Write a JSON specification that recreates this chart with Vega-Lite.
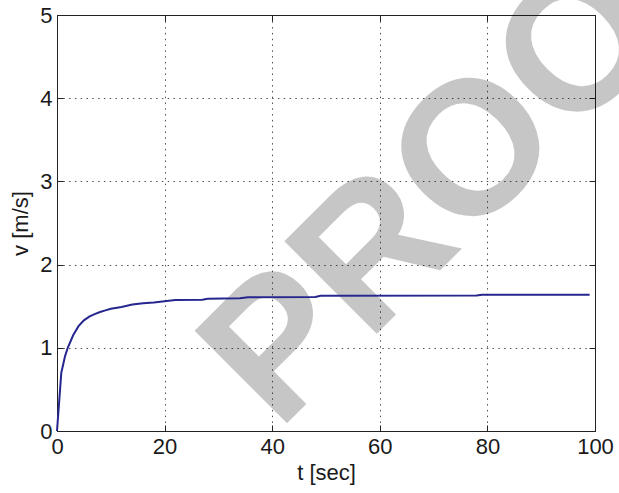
{
  "$schema": "https://vega.github.io/schema/vega-lite/v6.json",
  "width": 538,
  "height": 416,
  "autosize": {"type": "none"},
  "padding": {"left": 57, "top": 15, "right": 24, "bottom": 62},
  "background": "white",
  "config": {
    "view": {"stroke": "black", "strokeWidth": 1},
    "font": "Liberation Sans",
    "axis": {
      "labelFont": "Liberation Sans",
      "titleFont": "Liberation Sans",
      "labelFontSize": 22,
      "titleFontSize": 22,
      "titleFontWeight": "normal",
      "labelColor": "#1a1a1a",
      "titleColor": "#1a1a1a",
      "domainColor": "#222222",
      "domainWidth": 1,
      "tickColor": "#222222",
      "tickSize": -6,
      "tickWidth": 1,
      "gridColor": "#333333",
      "gridDash": [1.5, 4.3],
      "gridWidth": 1,
      "gridOpacity": 0.85
    }
  },
  "datasets": {
    "speed": [
      {"t": 0, "v": 0},
      {"t": 0.8, "v": 0.7},
      {"t": 1.5, "v": 0.9},
      {"t": 2, "v": 1.0},
      {"t": 3, "v": 1.15},
      {"t": 4, "v": 1.26},
      {"t": 5, "v": 1.33},
      {"t": 6, "v": 1.375},
      {"t": 7, "v": 1.405},
      {"t": 8, "v": 1.43},
      {"t": 9, "v": 1.45},
      {"t": 10, "v": 1.47},
      {"t": 12, "v": 1.49},
      {"t": 14, "v": 1.52},
      {"t": 16, "v": 1.535},
      {"t": 18, "v": 1.545},
      {"t": 20, "v": 1.56},
      {"t": 22, "v": 1.575},
      {"t": 27, "v": 1.578},
      {"t": 28, "v": 1.59},
      {"t": 34, "v": 1.595},
      {"t": 35.5, "v": 1.607},
      {"t": 48, "v": 1.61},
      {"t": 49, "v": 1.626},
      {"t": 78, "v": 1.628},
      {"t": 79, "v": 1.638},
      {"t": 99, "v": 1.638}
    ],
    "mark": [
      {"t": 41.1, "v": -0.015, "label": "PROOF"}
    ]
  },
  "layer": [
    {
      "data": {"name": "mark"},
      "mark": {
        "type": "text",
        "font": "Liberation Sans",
        "fontWeight": "bold",
        "fontSize": 190,
        "align": "left",
        "baseline": "alphabetic",
        "angle": 315,
        "fill": "black",
        "opacity": 0.22
      },
      "encoding": {
        "x": {
          "field": "t",
          "type": "quantitative",
          "scale": {"domain": [0, 100], "nice": false, "zero": false},
          "axis": {"orient": "top", "labels": false, "title": null, "grid": false, "values": [0, 20, 40, 60, 80, 100]}
        },
        "y": {
          "field": "v",
          "type": "quantitative",
          "scale": {"domain": [0, 5], "nice": false, "zero": false},
          "axis": {"orient": "right", "labels": false, "title": null, "grid": false, "values": [0, 1, 2, 3, 4, 5]}
        },
        "text": {"field": "label"}
      }
    },
    {
      "data": {"name": "speed"},
      "mark": {"type": "line", "color": "#26268f", "strokeWidth": 2},
      "encoding": {
        "x": {
          "field": "t",
          "type": "quantitative",
          "scale": {"domain": [0, 100], "nice": false, "zero": false},
          "axis": {"orient": "bottom", "title": "t [sec]", "grid": true, "values": [0, 20, 40, 60, 80, 100], "labelPadding": 11, "titlePadding": 5, "labelFlush": false}
        },
        "y": {
          "field": "v",
          "type": "quantitative",
          "scale": {"domain": [0, 5], "nice": false, "zero": false},
          "axis": {"orient": "left", "title": "v [m/s]", "grid": true, "values": [0, 1, 2, 3, 4, 5], "labelPadding": 11, "titlePadding": 7, "labelFlush": false}
        }
      }
    }
  ],
  "resolve": {"axis": {"x": "independent", "y": "independent"}}
}
